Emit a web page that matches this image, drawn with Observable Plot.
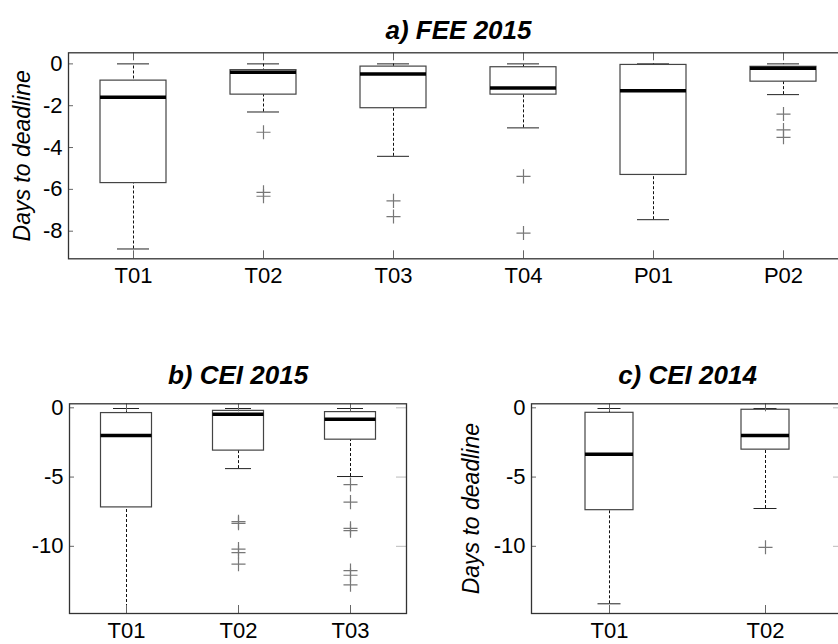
<!DOCTYPE html>
<html><head><meta charset="utf-8">
<script src="https://cdn.jsdelivr.net/npm/d3@7"></script>
<script src="https://cdn.jsdelivr.net/npm/@observablehq/plot@0.6"></script>
<style>
html,body{margin:0;padding:0;background:#fff;overflow:hidden}
#fig{position:relative;width:838px;height:644px;overflow:hidden;background:#fff}
#fig svg{position:absolute;overflow:visible;max-width:none !important}
</style></head><body><div id="fig"></div>
<script>
// ---- Panel a) FEE 2015 ----
const catsA = ["T01","T02","T03","T04","P01","P02"];
const hiA  = [0, 0, 0, 0, 0, 0];
const q3A  = [-0.8, -0.3, -0.13, -0.16, -0.05, -0.14];
const medA = [-1.6, -0.4, -0.48, -1.15, -1.28, -0.21];
const q1A  = [-5.7, -1.47, -2.12, -1.47, -5.31, -0.85];
const loA  = [-8.85, -2.3, -4.42, -3.06, -7.45, -1.47];
const outCatA = ["T02","T02","T02","T03","T03","T04","T04","P02","P02","P02"];
const outValA = [-3.27, -6.14, -6.33, -6.55, -7.3, -5.38, -8.09, -2.4, -3.16, -3.51];
const yTicksA = [0, -2, -4, -6, -8];

// ---- Panel b) CEI 2015 ----
const catsB = ["T01","T02","T03"];
const hiB  = [-0.05, -0.05, -0.05];
const q3B  = [-0.38, -0.22, -0.31];
const medB = [-1.99, -0.46, -0.82];
const q1B  = [-7.19, -3.09, -2.3];
const loB  = [-15.5, -4.39, -4.96];
const outCatB = ["T02","T02","T02","T02","T02","T03","T03","T03","T03","T03","T03","T03"];
const outValB = [-8.22, -8.34, -10.2, -10.45, -11.29, -5.54, -6.81, -8.7, -8.87, -11.75, -12.09, -12.78];
const yTicksB = [0, -5, -10];

// ---- Panel c) CEI 2014 ----
const catsC = ["T01","T02"];
const hiC  = [-0.05, -0.05];
const q3C  = [-0.36, -0.14];
const medC = [-3.36, -1.99];
const q1C  = [-7.39, -3.02];
const loC  = [-14.15, -7.27];
const outCatC = ["T02"];
const outValC = [-10.07];
const yTicksC = [0, -5, -10];

const FONT = '"Liberation Sans", Arial, Helvetica, sans-serif';

function panel(o) {
  const rows = o.cats.map((c, i) => ({c, hi: o.hi[i], q3: o.q3[i], med: o.med[i], q1: o.q1[i], lo: o.lo[i]}));
  const outs = o.outCat.map((c, i) => ({c, v: o.outVal[i]}));
  const iw = o.width - o.mL - o.mR, ih = o.height - o.mT - o.mB;
  const marks = [
    Plot.ruleX(rows, {x: "c", y1: "lo", y2: "hi", stroke: "#111", strokeDasharray: "3,2", clip: true}),
    Plot.tickY(rows, {x: "c", y: "hi", insetLeft: o.capInset, insetRight: o.capInset, stroke: "#222"}),
    Plot.tickY(rows.filter(d => d.lo > o.domain[0]), {x: "c", y: "lo", insetLeft: o.capInset, insetRight: o.capInset, stroke: "#222"}),
    Plot.barY(rows, {x: "c", y1: "q1", y2: "q3", insetLeft: o.boxInset, insetRight: o.boxInset, fill: "white", stroke: "#444", strokeWidth: 1.2}),
    Plot.tickY(rows, {x: "c", y: "med", insetLeft: o.boxInset, insetRight: o.boxInset, stroke: "#000", strokeWidth: 3.5}),
    Plot.dot(outs, {x: "c", y: "v", symbol: "plus", r: 4.6, stroke: "#777", strokeWidth: 1.2}),
    Plot.tickX(o.cats, {x: d => d, insetTop: ih - 8, stroke: "#666"}),
    Plot.tickX(o.cats, {x: d => d, insetBottom: ih - 8, stroke: "#666"}),
    Plot.tickY(o.yTicks, {y: d => d, insetRight: iw - 5, stroke: "#666"}),
    Plot.tickY(o.yTicks, {y: d => d, insetLeft: iw - 10, stroke: "#bbb"}),
    Plot.frame({stroke: "#333", strokeWidth: 1.3}),
    Plot.axisY(o.yTicks, {tickSize: 0, tickPadding: 6, fontSize: 22, label: null, fill: "#000", tickFormat: d => String(d)}),
    Plot.axisX(o.cats, {tickSize: 0, tickPadding: 9, fontSize: 22, label: null, fill: "#000"}),
    Plot.text([o.title], {frameAnchor: "top", lineAnchor: "middle", textAnchor: "middle", dy: o.titleDy, fontSize: 26, fontWeight: "bold", fontStyle: "italic", fill: "#000"})
  ];
  if (o.ylabel) marks.push(Plot.text([o.ylabel], {frameAnchor: "left", textAnchor: "middle", lineAnchor: "middle", rotate: -90, dx: o.ylabelDx, fontSize: 23, fontStyle: "italic", fill: "#000"}));
  const svg = Plot.plot({
    width: o.width, height: o.height,
    marginLeft: o.mL, marginRight: o.mR, marginTop: o.mT, marginBottom: o.mB,
    style: {fontFamily: FONT, background: "transparent", color: "#000", overflow: "visible", maxWidth: "none"},
    x: {type: "band", domain: o.cats, padding: 0},
    y: {domain: o.domain},
    marks
  });
  svg.style.left = o.left + "px";
  svg.style.top = o.top + "px";
  svg.style.width = o.width + "px";
  svg.style.height = o.height + "px";
  return svg;
}

const fig = document.getElementById("fig");
fig.appendChild(panel({
  cats: catsA, hi: hiA, q3: q3A, med: medA, q1: q1A, lo: loA, outCat: outCatA, outVal: outValA, yTicks: yTicksA,
  domain: [-9.32, 0.53], left: 0, top: 0, width: 870, height: 300, mL: 68, mR: 22, mT: 52.3, mB: 41.7,
  boxInset: 32, capInset: 49, title: "a) FEE 2015", titleDy: -22, ylabel: "Days to deadline", ylabelDx: -46
}));
fig.appendChild(panel({
  cats: catsB, hi: hiB, q3: q3B, med: medB, q1: q1B, lo: loB, outCat: outCatB, outVal: outValB, yTicks: yTicksB,
  domain: [-14.85, 0.29], left: 0, top: 330, width: 416, height: 314, mL: 69, mR: 10, mT: 73.3, mB: 31,
  boxInset: 30.5, capInset: 43, title: "b) CEI 2015", titleDy: -28
}));
fig.appendChild(panel({
  cats: catsC, hi: hiC, q3: q3C, med: medC, q1: q1C, lo: loC, outCat: outCatC, outVal: outValC, yTicks: yTicksC,
  domain: [-14.85, 0.29], left: 420, top: 330, width: 438, height: 314, mL: 111, mR: 15, mT: 73.3, mB: 31,
  boxInset: 54, capInset: 66.5, title: "c) CEI 2014", titleDy: -28, ylabel: "Days to deadline", ylabelDx: -60
}));
</script></body></html>
